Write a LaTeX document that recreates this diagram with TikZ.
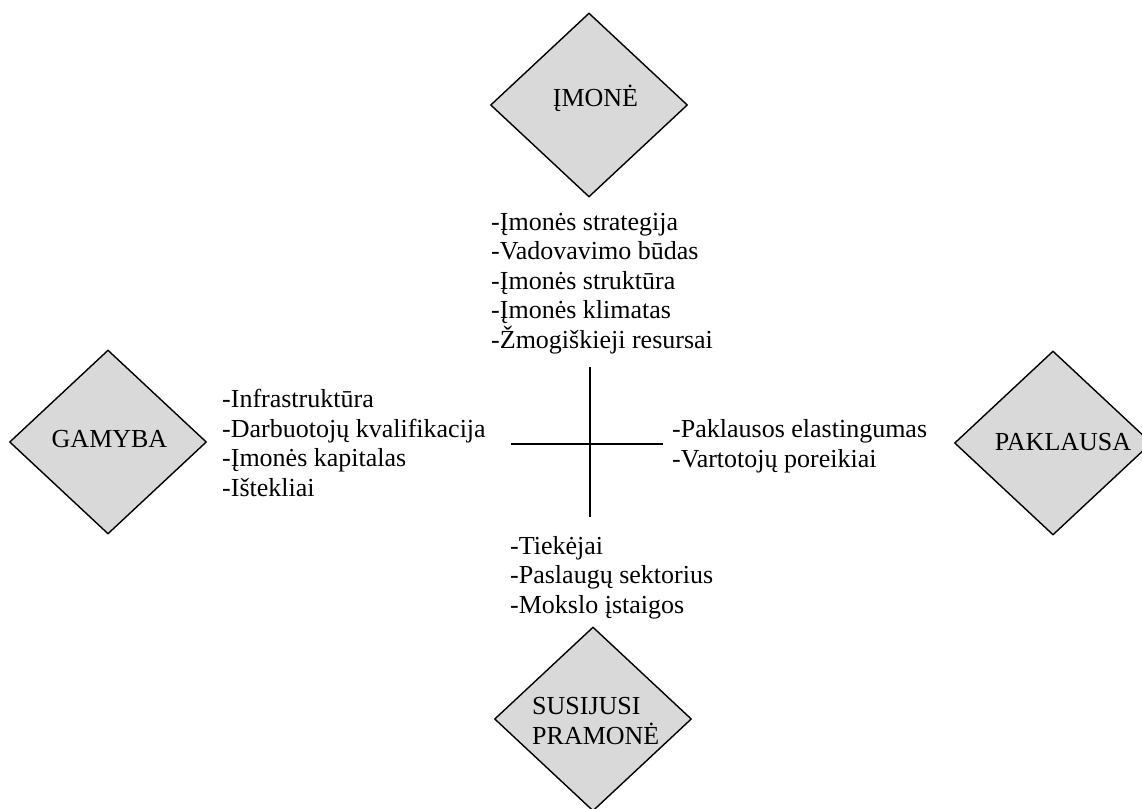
\documentclass[tikz,border=0pt]{standalone}
\usepackage{fontspec}
\setmainfont{Liberation Serif}
\usetikzlibrary{shapes.geometric}
\begin{document}
\begin{tikzpicture}[x=1pt,y=-1pt,
  rhomb/.style={diamond, draw=black, line width=1.4pt, fill=black!15,
    minimum width=197pt, minimum height=184pt, inner sep=0pt},
  rtext/.style={anchor=base, inner sep=0pt, font=\fontsize{26}{29.5}\selectfont},
  factors/.style={anchor=base west, inner sep=0pt, align=left,
    font=\fontsize{26}{29.5}\selectfont},
  axis/.style={line width=1.5pt}]
\useasboundingbox (0,0) rectangle (1142,808);

% the four determinants
\node[rhomb] (imone) at (589,105) {};
\node[rhomb] (gamyba) at (108,442) {};
\node[rhomb] (paklausa) at (1053,443) {};
\node[rhomb] (pramone) at (593,719) {};

\node[rtext] (imone-t) at (595.5,106) {ĮMONĖ};
\node[rtext] (gamyba-t) at (109.5,447.5) {GAMYBA};
\node[rtext] (paklausa-t) at (1063,450) {PAKLAUSA};
\node[rtext, anchor=base west] (pramone-t1) at (532,714) {SUSIJUSI};
\node[rtext, anchor=base west] (pramone-t2) at (532,744) {PRAMONĖ};

% factor lists (anchored at the baseline of their last line)
\node[factors] (f-top) at (491,348) {-Įmonės strategija\\-Vadovavimo būdas\\-Įmonės struktūra\\-Įmonės klimatas\\-Žmogiškieji resursai};
\node[factors] (f-left) at (222,496) {-Infrastruktūra\\-Darbuotojų kvalifikacija\\-Įmonės kapitalas\\-Ištekliai};
\node[factors] (f-right) at (672,467) {-Paklausos elastingumas\\-Vartotojų poreikiai};
\node[factors] (f-bottom) at (510,613) {-Tiekėjai\\-Paslaugų sektorius\\-Mokslo įstaigos};

% central cross
\coordinate (v-top) at (590,367);
\coordinate (v-bot) at (590,517);
\coordinate (h-left) at (511,444);
\coordinate (h-right) at (663,444);
\draw[axis] (v-top) -- (v-bot);
\draw[axis] (h-left) -- (h-right);
\end{tikzpicture}
\end{document}
